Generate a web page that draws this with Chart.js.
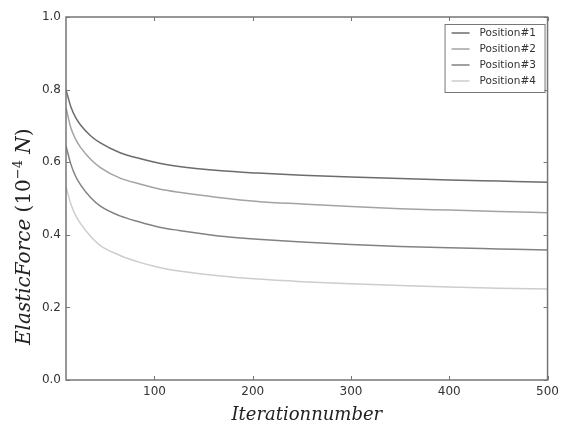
<!DOCTYPE html>
<html>
<head>
<meta charset="utf-8">
<script src="https://cdn.jsdelivr.net/npm/chart.js@4"></script>
<style>
  html, body { margin: 0; padding: 0; background: #fff; }
  #wrap { width: 564px; height: 426px; }
</style>
</head>
<body>
<div id="wrap"><canvas id="force-chart" width="564" height="426"></canvas></div>
<script>
const iterations = [10, 15, 20, 25, 35, 45, 65, 85, 105, 125, 165, 205, 250, 300, 350, 400, 450, 500];

const position1 = [0.800, 0.752, 0.722, 0.702, 0.673, 0.653, 0.626, 0.610, 0.597, 0.588, 0.577, 0.570, 0.564, 0.559, 0.555, 0.551, 0.548, 0.545];
const position2 = [0.750, 0.694, 0.662, 0.640, 0.608, 0.585, 0.556, 0.540, 0.526, 0.517, 0.503, 0.492, 0.485, 0.478, 0.472, 0.468, 0.464, 0.461];
const position3 = [0.645, 0.594, 0.560, 0.537, 0.503, 0.479, 0.452, 0.435, 0.421, 0.412, 0.397, 0.388, 0.380, 0.373, 0.368, 0.364, 0.361, 0.358];
const position4 = [0.533, 0.484, 0.452, 0.430, 0.396, 0.370, 0.343, 0.324, 0.310, 0.300, 0.287, 0.278, 0.271, 0.265, 0.260, 0.256, 0.253, 0.251];

const seriesLabels = ['Position#1', 'Position#2', 'Position#3', 'Position#4'];
const xTicks = [100, 200, 300, 400, 500];
const yTicks = [0.0, 0.2, 0.4, 0.6, 0.8, 1.0];

const FRAME = '#767676';

function toPoints(values) {
  return values.map((v, i) => ({ x: iterations[i], y: v }));
}

// matplotlib-style frame with inward ticks on all four sides
const framePlugin = {
  id: 'frame',
  afterDatasetsDraw(chart) {
    const { ctx, chartArea: a, scales } = chart;
    ctx.save();
    ctx.strokeStyle = FRAME;
    ctx.lineWidth = 1.5;
    ctx.strokeRect(a.left, a.top, a.right - a.left, a.bottom - a.top);
    ctx.lineWidth = 1;
    ctx.beginPath();
    xTicks.forEach(v => {
      const px = Math.round(scales.x.getPixelForValue(v)) + 0.5;
      ctx.moveTo(px, a.bottom); ctx.lineTo(px, a.bottom - 4);
      ctx.moveTo(px, a.top); ctx.lineTo(px, a.top + 4);
    });
    yTicks.forEach(v => {
      const py = Math.round(scales.y.getPixelForValue(v)) + 0.5;
      ctx.moveTo(a.left, py); ctx.lineTo(a.left + 4, py);
      ctx.moveTo(a.right, py); ctx.lineTo(a.right - 4, py);
    });
    ctx.stroke();
    ctx.restore();
  }
};

// y title with a real superscript: ElasticForce (10^-4 N)
const yTitlePlugin = {
  id: 'yTitle',
  afterDraw(chart) {
    const { ctx } = chart;
    const parts = [
      { t: 'ElasticForce', f: 'italic 20px "DejaVu Serif"', dy: 0 },
      { t: ' (10', f: '20px "DejaVu Serif"', dy: 0 },
      { t: '−4', f: '13px "DejaVu Serif"', dy: -8 },
      { t: ' ', f: '20px "DejaVu Serif"', dy: 0 },
      { t: 'N', f: 'italic 20px "DejaVu Serif"', dy: 0 },
      { t: ')', f: '20px "DejaVu Serif"', dy: 0 }
    ];
    ctx.save();
    ctx.translate(30, 345);
    ctx.rotate(-Math.PI / 2);
    ctx.fillStyle = '#222';
    ctx.textBaseline = 'alphabetic';
    let x = 0;
    parts.forEach(p => {
      ctx.font = p.f;
      ctx.fillText(p.t, x, p.dy);
      x += ctx.measureText(p.t).width;
    });
    ctx.restore();
  }
};

// boxed legend in the upper right corner
const legendBoxPlugin = {
  id: 'legendBox',
  afterDraw(chart) {
    const { ctx, chartArea: a } = chart;
    const right = a.right - 3, top = a.top + 7;
    const w = 100, h = 68, rowH = 16;
    const left = right - w;
    ctx.save();
    ctx.fillStyle = '#fff';
    ctx.fillRect(left, top, w, h);
    ctx.strokeStyle = '#777';
    ctx.lineWidth = 1;
    ctx.strokeRect(left + 0.5, top + 0.5, w, h);
    ctx.font = '10.5px "DejaVu Sans"';
    ctx.textBaseline = 'middle';
    chart.data.datasets.forEach((ds, i) => {
      const y = top + 9 + i * rowH;
      ctx.strokeStyle = ds.borderColor;
      ctx.lineWidth = 1.5;
      ctx.beginPath();
      ctx.moveTo(left + 7, y); ctx.lineTo(left + 25, y);
      ctx.stroke();
      ctx.fillStyle = '#333';
      ctx.fillText(ds.label, left + 35, y);
    });
    ctx.restore();
  }
};

const ctx = document.getElementById('force-chart').getContext('2d');
new Chart(ctx, {
  type: 'line',
  data: {
    datasets: [
      { label: seriesLabels[0], data: toPoints(position1), borderColor: '#6c6c6c' },
      { label: seriesLabels[1], data: toPoints(position2), borderColor: '#a3a3a3' },
      { label: seriesLabels[2], data: toPoints(position3), borderColor: '#828282' },
      { label: seriesLabels[3], data: toPoints(position4), borderColor: '#cdcdcd' }
    ]
  },
  options: {
    responsive: false,
    animation: false,
    layout: { padding: { top: 17, right: 10, left: 0, bottom: 0 } },
    elements: {
      line: { borderWidth: 1.5, cubicInterpolationMode: 'monotone', fill: false },
      point: { radius: 0 }
    },
    scales: {
      x: {
        type: 'linear',
        min: 10,
        max: 500,
        afterBuildTicks: scale => { scale.ticks = xTicks.map(v => ({ value: v })); },
        afterFit: scale => { scale.height = 46; },
        grid: { display: false, drawTicks: false },
        border: { display: false },
        ticks: { color: '#333', padding: 5, font: { family: 'DejaVu Sans', size: 12 } },
        title: {
          display: true,
          text: 'Iterationnumber',
          color: '#222',
          padding: { top: 6, bottom: 0 },
          font: { family: 'DejaVu Serif', style: 'italic', size: 18 }
        }
      },
      y: {
        min: 0,
        max: 1,
        afterBuildTicks: scale => { scale.ticks = yTicks.map(v => ({ value: v })); },
        afterFit: scale => { scale.width = 66; },
        grid: { display: false, drawTicks: false },
        border: { display: false },
        ticks: {
          color: '#333',
          padding: 5,
          font: { family: 'DejaVu Sans', size: 12 },
          callback: v => Number(v).toFixed(1)
        }
      }
    },
    plugins: {
      legend: { display: false },
      tooltip: { enabled: false }
    }
  },
  plugins: [framePlugin, yTitlePlugin, legendBoxPlugin]
});
</script>
</body>
</html>
